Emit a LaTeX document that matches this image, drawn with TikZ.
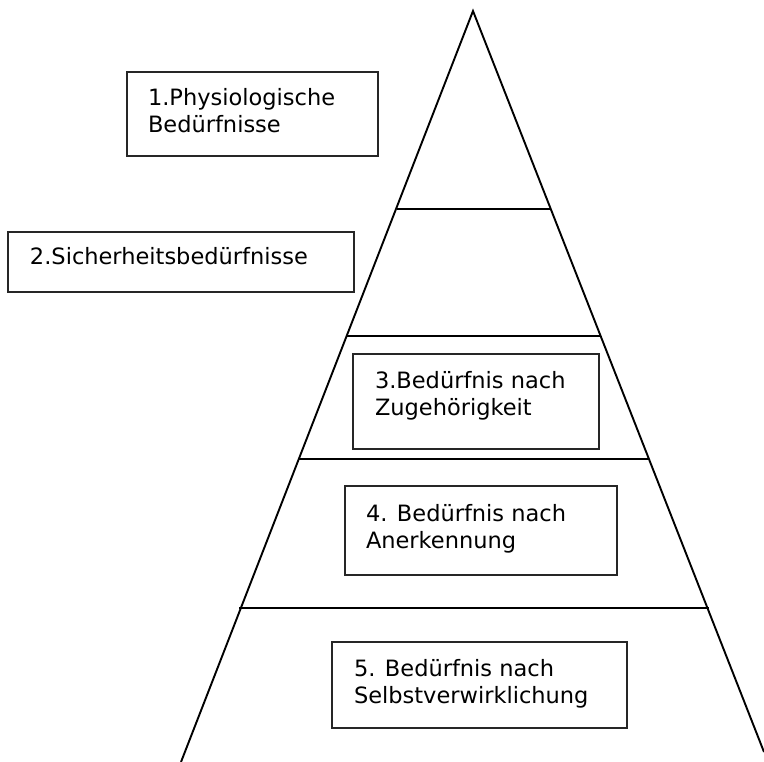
\documentclass[tikz,border=0pt]{standalone}
\usepackage{fontspec}
\setmainfont{DejaVu Sans}
\begin{document}
\begin{tikzpicture}[x=1pt,y=-1pt,
  edge/.style={line width=1.9pt,black},
  box/.style={draw=black!85,line width=1.6pt,rectangle,inner sep=0pt,outer sep=0pt},
  lbl/.style={anchor=base west,inner sep=0pt,outer sep=0pt,align=left,font=\fontsize{22.5}{27}\selectfont}]
\useasboundingbox (0,0) rectangle (764,762);
% pyramid
\coordinate (apex) at (473,11);
\coordinate (bl) at (181,762);
\coordinate (br) at (764,752);
\draw[edge,line join=miter] (bl) -- (apex) -- (br);
\coordinate (l1a) at (397,209);   \coordinate (l1b) at (550,209);
\coordinate (l2a) at (347,336); \coordinate (l2b) at (600,336);
\coordinate (l3a) at (298,459);   \coordinate (l3b) at (649,459);
\coordinate (l4a) at (239,608); \coordinate (l4b) at (709,608);
\draw[edge] (l1a) -- (l1b);
\draw[edge] (l2a) -- (l2b);
\draw[edge] (l3a) -- (l3b);
\draw[edge] (l4a) -- (l4b);
% boxes
\node[box,minimum width=251pt,minimum height=84pt] (b1) at (252.5,114) {};
\node[box,minimum width=346pt,minimum height=60pt] (b2) at (181,262) {};
\node[box,minimum width=246pt,minimum height=95pt] (b3) at (476,401.5) {};
\node[box,minimum width=272pt,minimum height=89pt] (b4) at (481,530.5) {};
\node[box,minimum width=295pt,minimum height=86pt] (b5) at (479.5,685) {};
% labels (base = baseline of the last line)
\node[lbl] (t1) at (148,132.5) {1.Physiologische\\Bedürfnisse};
\node[lbl] (t2) at (30,265) {2.Sicherheitsbedürfnisse};
\node[lbl] (t3) at (375,415.5) {3.Bedürfnis nach\\Zugehörigkeit};
\node[lbl] (t4) at (366,548) {4. Bedürfnis nach\\Anerkennung};
\node[lbl] (t5) at (354,703.5) {5. Bedürfnis nach\\Selbstverwirklichung};
\end{tikzpicture}
\end{document}
